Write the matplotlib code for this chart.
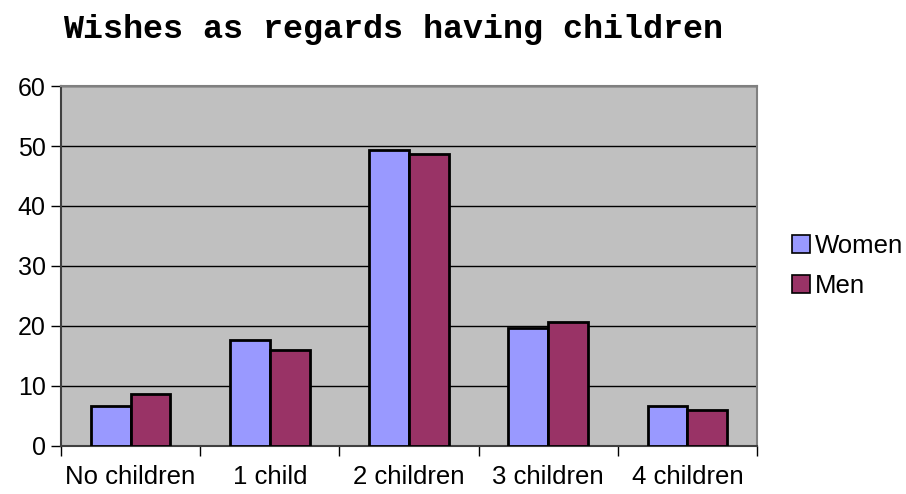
import matplotlib
matplotlib.use("Agg")
import matplotlib.pyplot as plt
import numpy as np

plt.rcParams["font.family"] = ["Liberation Sans", "DejaVu Sans"]

categories = ["No children", "1 child", "2 children", "3 children", "4 children"]
series_names = ["Women", "Men"]
women = [6.67, 17.67, 49.3, 19.67, 6.67]
men = [8.73, 15.95, 48.7, 20.67, 6.07]
y_ticks = [0, 10, 20, 30, 40, 50, 60]

colors = ["#9999FF", "#993366"]

fig = plt.figure(figsize=(9.06, 4.94), dpi=100)
ax = fig.add_axes([0.0673, 0.0972, 0.7682, 0.7287])
ax.set_facecolor("#C0C0C0")

x = np.arange(len(categories))
bw = 1 / 3.5
ax.bar(x - bw / 2, women, bw, color=colors[0], edgecolor="black", linewidth=2,
       label=series_names[0], zorder=3)
ax.bar(x + bw / 2, men, bw, color=colors[1], edgecolor="black", linewidth=2,
       label=series_names[1], zorder=3)

ax.set_xlim(-0.5, len(categories) - 0.5)
ax.set_ylim(0, 60)
ax.set_yticks(y_ticks)
ax.yaxis.grid(True, color="black", linewidth=1, zorder=1)
ax.set_axisbelow(True)

# category ticks sit between groups, labels at group centres
ax.set_xticks(np.arange(len(categories) + 1) - 0.5)
ax.set_xticklabels([])
ax.set_xticks(x, minor=True)
ax.set_xticklabels(categories, minor=True)
ax.tick_params(axis="x", which="minor", length=0, pad=14, labelsize=18.5)
ax.tick_params(axis="x", which="major", length=7, width=1, direction="out", color="black")
ax.tick_params(axis="y", length=7, width=1, direction="out", labelsize=18, pad=4)

for side in ["left", "bottom"]:
    ax.spines[side].set_color("#404040")
    ax.spines[side].set_linewidth(1.5)
for side in ["top", "right"]:
    ax.spines[side].set_color("#808080")
    ax.spines[side].set_linewidth(1.5)

fig.text(0.434, 0.94, "Wishes as regards having children", ha="center", va="center",
         fontsize=24, fontweight="bold", family="Liberation Mono")

leg = ax.legend(loc="center left", bbox_to_anchor=(1.035, 0.5), frameon=False,
                fontsize=18.5, handlelength=0.7, handleheight=0.7, handletextpad=0.2,
                labelspacing=0.65, borderaxespad=0)
for h in leg.legend_handles:
    h.set_linewidth(1.2)

fig.savefig("out.png", dpi=100)
